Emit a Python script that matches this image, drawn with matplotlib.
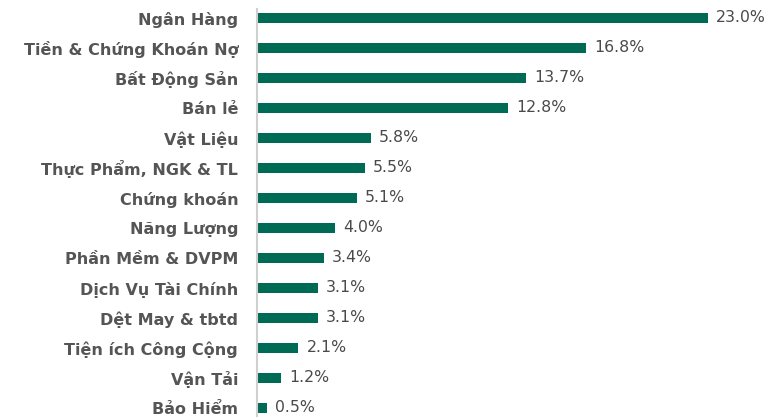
import matplotlib.pyplot as plt

# ----- DATA -----
categories = ["Ngân Hàng", "Tiền & Chứng Khoán Nợ", "Bất Động Sản", "Bán lẻ",
              "Vật Liệu", "Thực Phẩm, NGK & TL", "Chứng khoán", "Năng Lượng",
              "Phần Mềm & DVPM", "Dịch Vụ Tài Chính", "Dệt May & tbtd",
              "Tiện ích Công Cộng", "Vận Tải", "Bảo Hiểm"]
weights = [23.0, 16.8, 13.7, 12.8, 5.8, 5.5, 5.1, 4.0, 3.4, 3.1, 3.1, 2.1, 1.2, 0.5]
# ----------------

BAR_COLOR = "#006B55"
TEXT_COLOR = "#555555"

fig = plt.figure(figsize=(7.65, 4.17), dpi=100)
ax = fig.add_axes([257 / 765, 0, 1 - 257 / 765, 1])

pos = list(range(len(categories)))
ax.barh(pos, weights, height=0.35, color=BAR_COLOR)

for y, v in zip(pos, weights):
    ax.text(v + 0.42, y, f"{v:.1f}%", va="center", ha="left",
            fontsize=11.3, color="#4a4a4a", family="DejaVu Sans")

ax.set_xlim(0, 508 / 19.6)
ax.set_ylim(13.3, -0.6)
ax.set_yticks(pos)
ax.set_yticklabels(categories, fontsize=11.5, fontweight="bold",
                   color=TEXT_COLOR, family="DejaVu Sans")
ax.tick_params(axis="y", length=0, pad=13.5)
ax.set_xticks([])
for s in ["top", "right", "bottom", "left"]:
    ax.spines[s].set_visible(False)
ax.plot([0, 0], [-0.3, 13.3], color="#d0d0d0", lw=1.5, clip_on=False)

fig.savefig("out.png", dpi=100)
